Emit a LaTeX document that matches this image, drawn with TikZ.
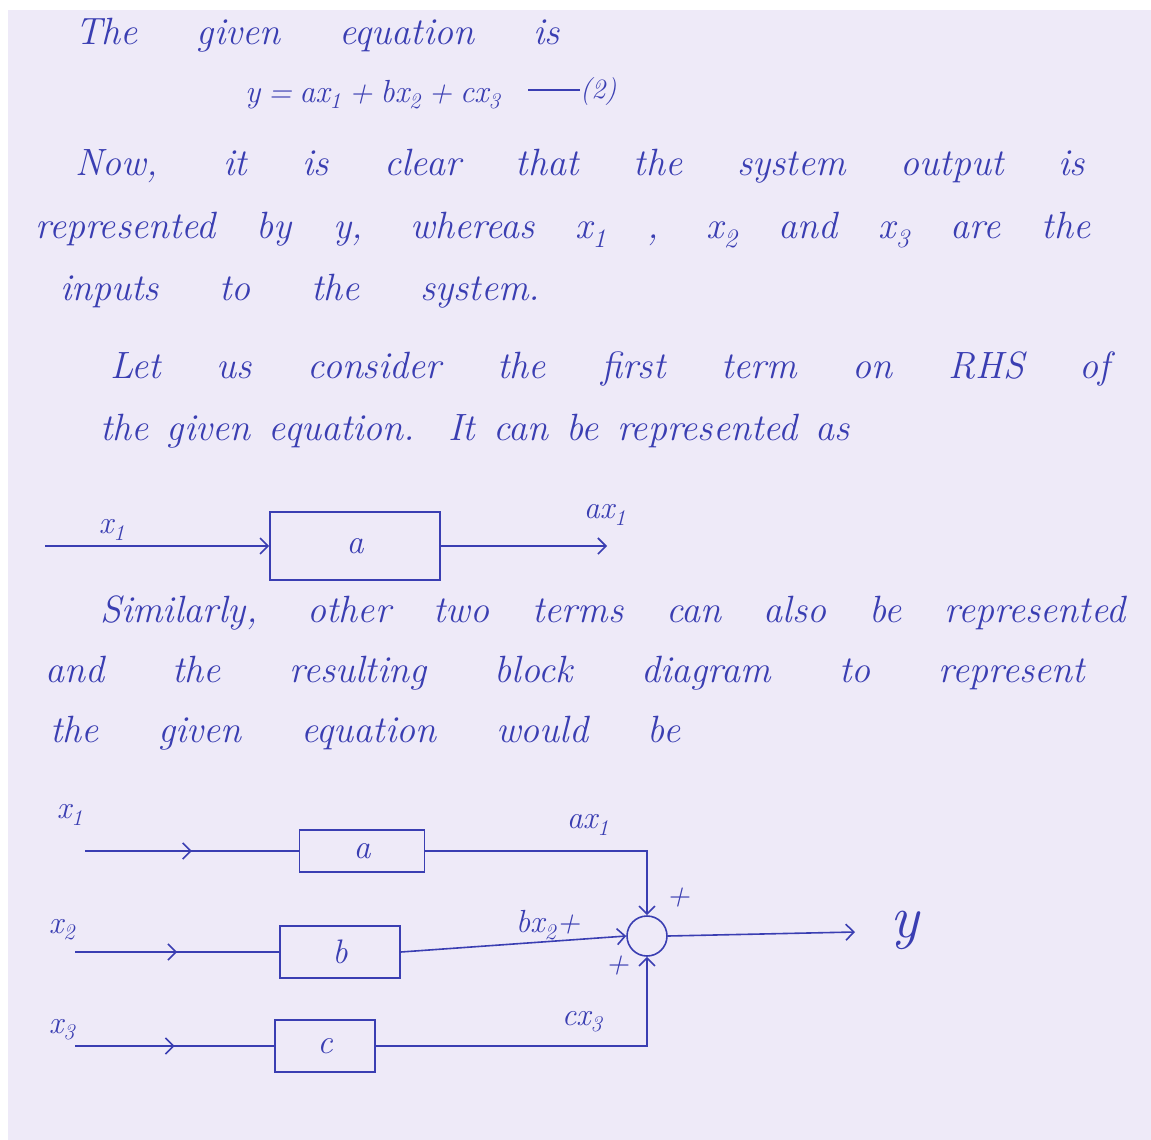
\documentclass[tikz,border=0pt]{standalone}
\usetikzlibrary{arrows.meta,decorations.markings}
\definecolor{paper}{RGB}{238,234,248}
\definecolor{ink}{RGB}{58,62,178}
\newcommand{\xsub}[1]{x\textsubscript{#1}}
\begin{document}
\begin{tikzpicture}[x=1pt,y=-1pt,
  inkline/.style={draw=ink, line width=1.6pt},
  txt/.style={anchor=base west, inner sep=0pt, text=ink, font=\fontsize{38}{44}\selectfont\itshape},
  lbl/.style={inner sep=0pt, text=ink, font=\fontsize{32}{38}\selectfont\itshape},
  blk/.style={draw=ink, line width=1.6pt, inner sep=0pt, text=ink, font=\fontsize{34}{40}\selectfont\itshape},
  sumj/.style={draw=ink, line width=1.6pt, circle, minimum size=40pt, inner sep=0pt},
  sig/.style={draw=ink, line width=1.6pt, -{Straight Barb[length=8pt,width=16pt,line width=1.6pt]}},
  midarrow/.style={postaction={decorate}, decoration={markings, mark=at position 0.5 with {\arrow{Straight Barb[length=8pt,width=16pt,line width=1.6pt]}}}}
]
\fill[white] (0,0) rectangle (1151,1140);
\fill[paper] (8,10) rectangle (1151,1140);
\useasboundingbox (0,0) rectangle (1151,1140);

% text lines
\node[txt] (l1) at (75,45) {\makebox[485pt][s]{The given equation is}};
\node[txt, font=\fontsize{32}{38}\selectfont\itshape] (eq) at (245,102) {\makebox[252pt][s]{y = a\xsub{1} + b\xsub{2} + c\xsub{3}}};
\node[txt, font=\fontsize{28}{34}\selectfont\itshape] (eqn) at (580,98) {(2)};
\coordinate (dashst) at (528,90);
\draw[inkline] (dashst) -- (eqn.west |- dashst);
\node[txt] (l3) at (75,175) {\makebox[1010pt][s]{Now, it is clear that the system output is}};
\node[txt] (l4) at (35,238) {\makebox[1055pt][s]{represented by y, whereas \xsub{1} , \xsub{2} and \xsub{3} are the}};
\node[txt] (l5) at (60,300) {\makebox[480pt][s]{inputs to the system.}};
\node[txt] (l6) at (110,378) {\makebox[1000pt][s]{Let us consider the first term on RHS of}};
\node[txt] (l7) at (100,440) {\makebox[750pt][s]{the given equation. It can be represented as}};
\node[txt] (l8) at (100,622) {\makebox[1025pt][s]{Similarly, other two terms can also be represented}};
\node[txt] (l9) at (45,682) {\makebox[1040pt][s]{and the resulting block diagram to represent}};
\node[txt] (l10) at (50,742) {\makebox[630pt][s]{the given equation would be}};

% diagram 1
\node[blk, minimum width=170pt, minimum height=68pt] (A1) at (355,546) {a};
\coordinate (in1) at (45,546);
\coordinate (out1) at (607,546);
\draw[sig] (in1) -- (A1.west);
\draw[sig] (A1.east) -- (out1);
\node[lbl] (lx1) at (112,530) {\xsub{1}};
\node[lbl] (lax1) at (605,515) {a\xsub{1}};

% diagram 2
\node[blk, minimum width=125pt, minimum height=42pt] (A2) at (362,851) {a};
\node[blk, minimum width=120pt, minimum height=52pt] (B2) at (340,952) {b};
\node[blk, minimum width=100pt, minimum height=52pt] (C2) at (325,1046) {c};
\node[sumj] (S) at (647,936) {};
\coordinate (i1) at (85,851);
\coordinate (i2) at (75,952);
\coordinate (i3) at (75,1046);
\coordinate (yo) at (855,932);
\draw[inkline, midarrow] (i1) -- (A2.west);
\draw[inkline, midarrow] (i2) -- (B2.west);
\draw[inkline, midarrow] (i3) -- (C2.west);
\draw[sig] (A2.east) -| (S.north);
\draw[sig] (B2.east) -- (S.west);
\draw[sig] (C2.east) -| (S.south);
\draw[sig] (S.east) -- (yo);
\node[lbl] (lx21) at (70,815) {\xsub{1}};
\node[lbl] (lx22) at (62,930) {\xsub{2}};
\node[lbl] (lx23) at (62,1030) {\xsub{3}};
\node[lbl] (la2) at (588,825) {a\xsub{1}};
\node[lbl] (lb2) at (548,925) {b\xsub{2}+};
\node[lbl] (lc2) at (582,1022) {c\xsub{3}};
\node[lbl] (p1) at (678,898) {+};
\node[lbl] (p2) at (617,966) {+};
\node[lbl, font=\fontsize{60}{66}\selectfont\itshape] (ly) at (905,930) {y};
\end{tikzpicture}
\end{document}
